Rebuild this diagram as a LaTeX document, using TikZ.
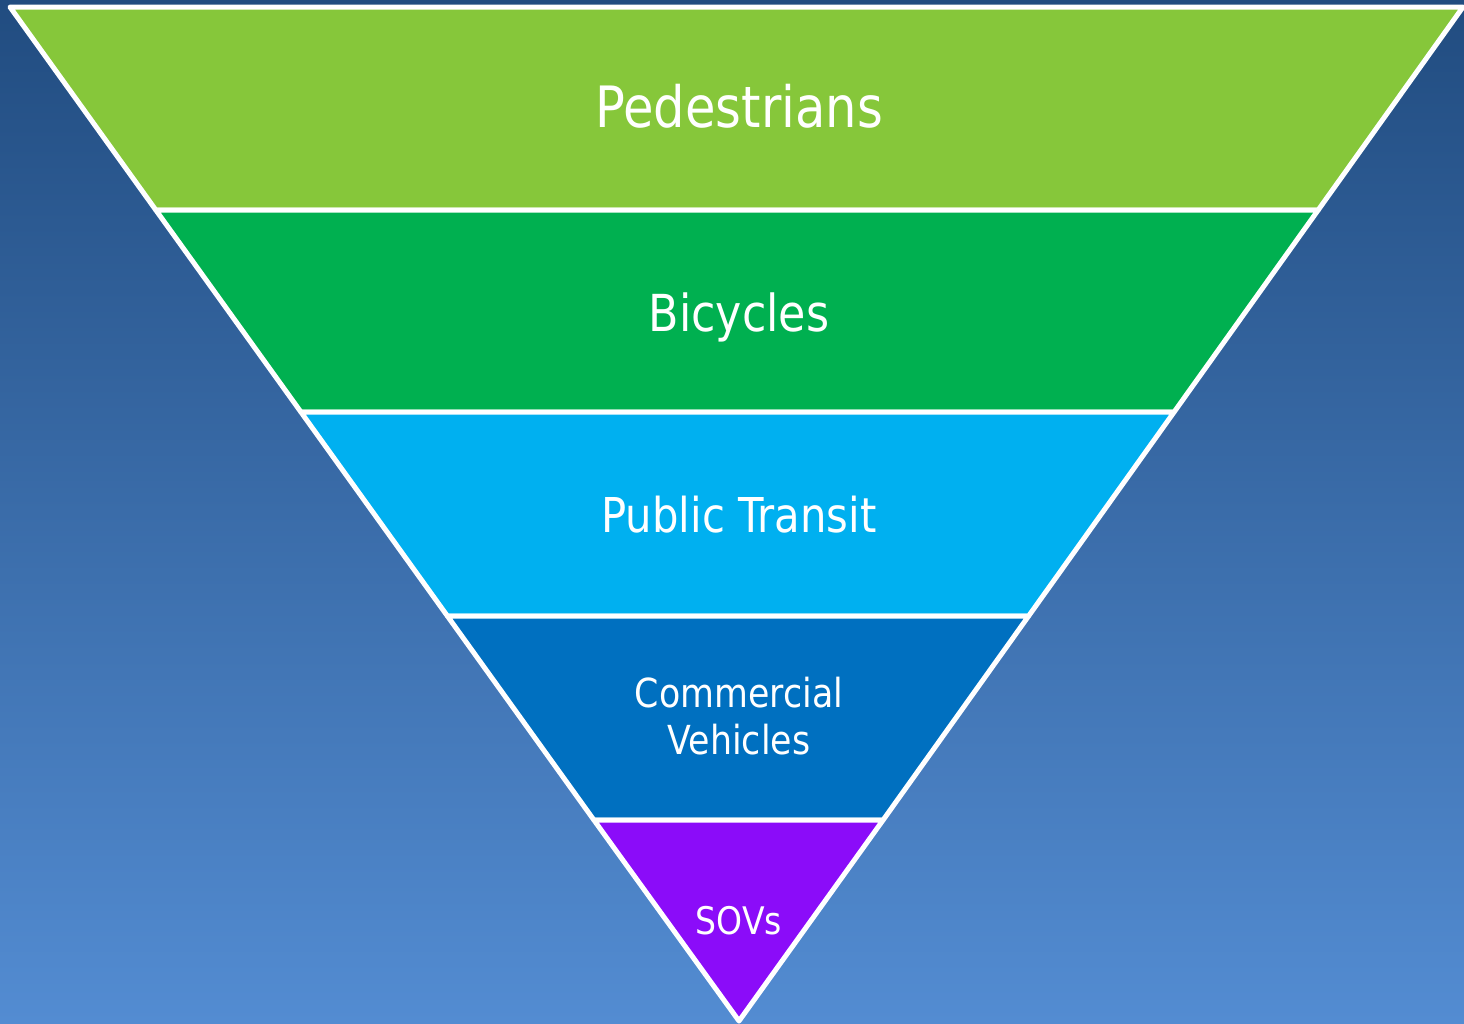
\documentclass[tikz,border=0pt]{standalone}
\usepackage{fontspec}
\setmainfont{DejaVu Sans}[FakeStretch=0.87]
\definecolor{bgtop}{HTML}{214C80}
\definecolor{bgbot}{HTML}{538CD2}
\definecolor{cped}{HTML}{86C73A}
\definecolor{cbic}{HTML}{00B050}
\definecolor{cpub}{HTML}{00B0F0}
\definecolor{ccom}{HTML}{0070C0}
\definecolor{csov}{HTML}{8B0CF9}
\tikzset{
  band/.style={draw=white, line width=5pt, line join=round},
  lbl/.style={text=white, anchor=base, inner sep=0pt, align=center},
}
\begin{document}
\begin{tikzpicture}[x=1pt,y=-1pt]
\useasboundingbox (0,0) rectangle (1464,1023);
\shade[top color=bgtop, bottom color=bgbot] (0,0) rectangle (1464,1023);
% level coordinates
\coordinate (L0) at (10,7);     \coordinate (R0) at (1463,7);
\coordinate (L1) at (155.8,210);\coordinate (R1) at (1318.2,210);
\coordinate (L2) at (300.9,412);\coordinate (R2) at (1174.1,412);
\coordinate (L3) at (447.4,616);\coordinate (R3) at (1028.6,616);
\coordinate (L4) at (593.9,820);\coordinate (R4) at (883.1,820);
\coordinate (T)  at (739,1021);
% bands
\draw[band, fill=cped] (L0) -- (R0) -- (R1) -- (L1) -- cycle;
\draw[band, fill=cbic] (L1) -- (R1) -- (R2) -- (L2) -- cycle;
\draw[band, fill=cpub] (L2) -- (R2) -- (R3) -- (L3) -- cycle;
\draw[band, fill=ccom] (L3) -- (R3) -- (R4) -- (L4) -- cycle;
\draw[band, fill=csov] (L4) -- (R4) -- (T) -- cycle;
% labels
\node[lbl, font=\fontsize{57}{68}\selectfont] (ped) at (739,127) {Pedestrians};
\node[lbl, font=\fontsize{51}{62}\selectfont] (bic) at (739,331) {Bicycles};
\node[lbl, font=\fontsize{48}{58}\selectfont] (pub) at (739,532) {Public Transit};
\node[lbl, font=\fontsize{40}{47}\selectfont] (com) at (739,707) {Commercial};
\node[lbl, font=\fontsize{40}{47}\selectfont] (veh) at (739,754) {Vehicles};
\node[lbl, font=\fontsize{38}{44}\selectfont] (sov) at (739,934) {SOVs};
\end{tikzpicture}
\end{document}
